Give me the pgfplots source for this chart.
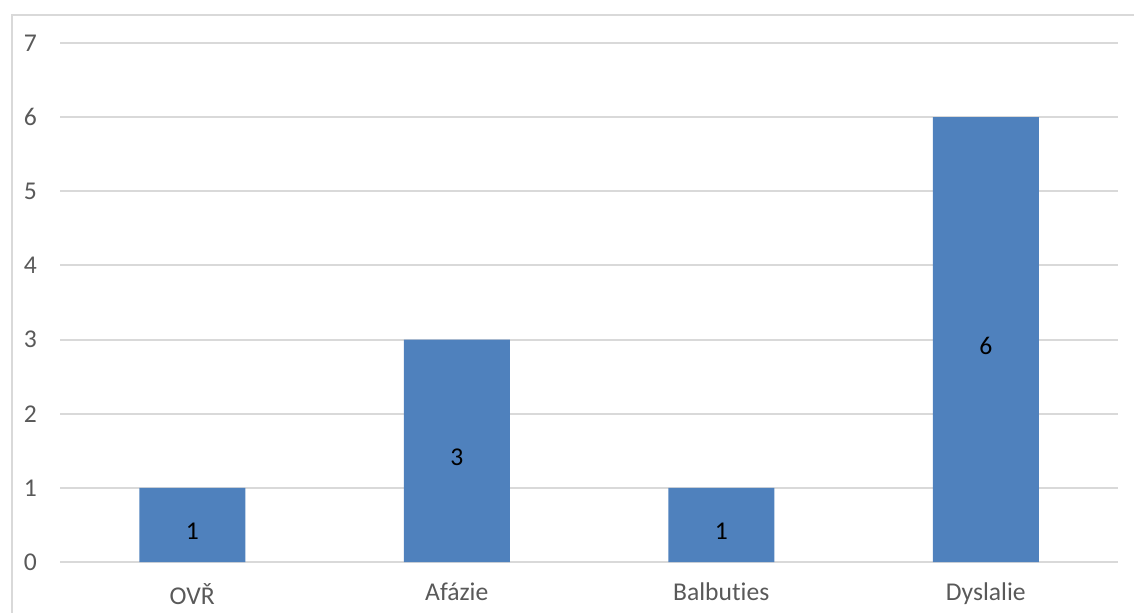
\documentclass[border=0pt]{standalone}
\usepackage{fontspec}
\setmainfont{Carlito}[Ligatures=NoCommon]
\usepackage{pgfplots}
\pgfplotsset{compat=1.18}
\definecolor{barblue}{RGB}{79,129,189}
\definecolor{gridgray}{RGB}{217,217,217}
\definecolor{txtgray}{RGB}{89,89,89}
\begin{document}
\begin{tikzpicture}
\useasboundingbox (-30pt,-25pt) rectangle (537pt,281pt);
\begin{axis}[
  scale only axis,
  width=529pt, height=259.5pt,
  xmin=-0.5, xmax=3.5, ymin=0, ymax=7,
  axis line style={draw=none},
  xtick={0,1,2,3},
  xticklabels={OVŘ,Afázie,Balbuties,Dyslalie},
  ytick={0,1,2,3,4,5,6,7},
  ymajorgrids,
  grid style={gridgray, line width=1pt},
  major tick length=0pt,
  tick label style={font=\fontsize{12.8}{14}\selectfont, text=txtgray},
  /pgf/number format/assume math mode=true,
  yticklabel style={anchor=east, xshift=-8pt},
  xticklabel style={anchor=north, yshift=-7pt},
  clip=false,
]
\addplot[ybar, bar width=53pt, fill=barblue, draw=none] coordinates {(0,1) (1,3) (2,1) (3,6)};
\addplot[only marks, mark=none, nodes near coords, point meta=explicit symbolic,
  every node near coord/.append style={anchor=center, yshift=-3pt, font=\fontsize{12.8}{14}\selectfont, text=black}]
  coordinates {(0,0.5)[1] (1,1.5)[3] (2,0.5)[1] (3,3)[6]};
\end{axis}
\draw[gridgray, line width=1pt] (-24pt,-30pt) -- (-24pt,273.5pt) -- (545pt,273.5pt);
\end{tikzpicture}
\end{document}
